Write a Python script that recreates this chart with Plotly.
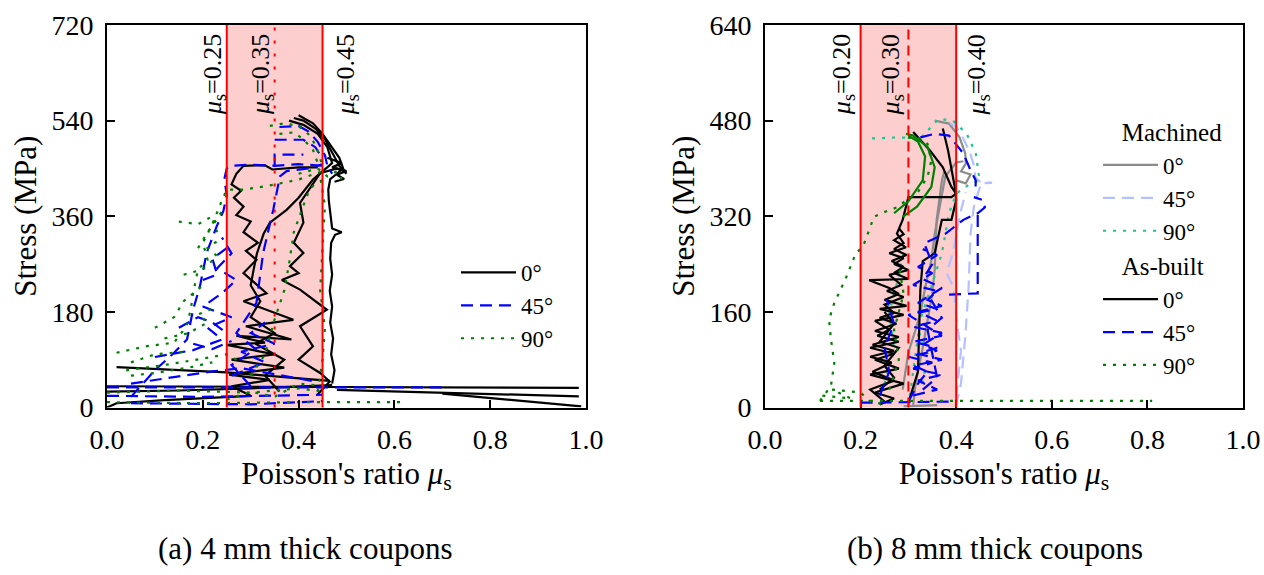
import plotly.graph_objects as go

FONT = "Liberation Serif"

# ---------------- (a) 4 mm thick coupons ----------------
# each series: list of polyline segments of (Poisson's ratio, stress MPa)
a_0deg = [
    [(0.00, 0), (0.02, 8), (0.12, 14), (0.22, 18), (0.30, 22), (0.26, 40), (0.34, 52), (0.255, 62),
     (0.37, 75), (0.26, 90), (0.35, 100), (0.25, 118), (0.33, 122), (0.27, 135), (0.385, 128),
     (0.29, 153), (0.389, 165), (0.285, 200), (0.333, 215), (0.285, 253), (0.312, 278), (0.29, 295),
     (0.315, 310), (0.285, 330), (0.30, 350), (0.27, 362), (0.285, 378), (0.265, 395), (0.28, 408),
     (0.26, 420), (0.27, 440), (0.285, 455), (0.33, 456), (0.345, 448), (0.40, 452), (0.44, 452)],
    [(0.36, 30), (0.33, 60), (0.37, 90), (0.31, 120), (0.35, 140), (0.30, 170), (0.32, 200),
     (0.30, 230), (0.306, 259), (0.313, 290), (0.327, 327), (0.34, 348), (0.375, 372), (0.40, 395),
     (0.43, 429), (0.45, 445), (0.47, 460), (0.46, 490), (0.44, 515), (0.41, 532), (0.38, 540)],
    [(0.44, 25), (0.465, 49), (0.445, 65), (0.40, 90), (0.43, 115), (0.403, 153), (0.459, 184),
     (0.403, 222), (0.365, 240), (0.40, 253), (0.382, 266), (0.41, 291), (0.39, 310), (0.41, 348),
     (0.403, 385), (0.43, 420), (0.445, 441), (0.48, 450), (0.495, 445), (0.485, 470), (0.47, 490),
     (0.45, 515), (0.43, 535), (0.40, 550)],
    [(0.47, 45), (0.475, 70), (0.468, 100), (0.472, 130), (0.466, 160), (0.47, 190), (0.465, 220),
     (0.47, 250), (0.466, 280), (0.468, 310), (0.476, 325), (0.49, 330), (0.47, 337), (0.467, 360),
     (0.463, 390), (0.462, 410), (0.466, 430), (0.48, 440), (0.49, 448), (0.50, 440), (0.485, 455),
     (0.47, 480), (0.455, 505), (0.435, 525), (0.41, 540), (0.39, 545)],
    [(0.46, 470), (0.49, 460), (0.47, 452), (0.50, 445), (0.48, 438), (0.495, 430), (0.475, 425)],
    [(0.02, 76), (0.25, 66), (0.465, 50)],
    [(0.00, 40), (0.985, 37)],
    [(0.48, 33), (0.985, 21)],
    [(0.70, 26), (0.99, 2)],
    [(0.00, 30), (0.15, 32), (0.30, 36), (0.47, 42)],
]
a_45deg = [
    [(0.05, 20), (0.10, 70), (0.14, 103), (0.167, 128), (0.18, 185), (0.194, 228), (0.208, 291),
     (0.229, 341), (0.243, 370), (0.25, 400), (0.245, 430), (0.25, 450), (0.26, 455), (0.30, 457),
     (0.35, 455), (0.40, 458), (0.45, 455)],
    [(0.30, 40), (0.26, 80), (0.31, 110), (0.27, 140), (0.312, 197), (0.326, 291), (0.347, 372),
     (0.361, 435), (0.375, 445), (0.42, 450), (0.45, 458)],
    [(0.35, 455), (0.35, 476), (0.41, 476)],
    [(0.35, 504), (0.41, 504), (0.435, 490), (0.45, 468)],
    [(0.36, 528), (0.40, 530), (0.42, 520), (0.44, 500), (0.455, 475), (0.46, 455), (0.47, 440)],
    [(0.05, 45), (0.15, 58), (0.22, 68), (0.28, 74), (0.35, 62), (0.44, 48)],
    [(0.10, 95), (0.18, 108), (0.24, 128), (0.21, 150), (0.26, 170), (0.20, 190), (0.24, 215),
     (0.27, 240), (0.23, 262), (0.26, 290), (0.24, 320)],
    [(0.26, 60), (0.33, 85), (0.28, 105), (0.35, 120), (0.30, 140), (0.33, 160)],
    [(0.15, 150), (0.19, 170), (0.22, 160), (0.25, 140)],
    [(0.20, 240), (0.23, 250), (0.22, 280), (0.25, 300)],
    [(0.18, 120), (0.22, 110), (0.26, 125)],
    [(0.00, 38), (0.70, 38)],
    [(0.00, 22), (0.20, 20), (0.45, 24)],
    [(0.05, 8), (0.30, 6), (0.45, 12)],
]
a_90deg = [
    [(0.02, 103), (0.08, 115), (0.14, 122), (0.166, 153), (0.175, 185), (0.18, 216), (0.19, 260),
     (0.21, 278), (0.20, 310), (0.22, 345), (0.24, 390), (0.25, 410), (0.285, 410), (0.34, 418),
     (0.40, 429), (0.43, 439), (0.45, 445)],
    [(0.44, 30), (0.45, 90), (0.455, 150), (0.445, 220), (0.45, 300), (0.455, 380), (0.445, 435)],
    [(0.30, 60), (0.33, 100), (0.35, 166), (0.37, 220), (0.38, 270), (0.39, 330), (0.41, 380),
     (0.42, 404), (0.44, 430)],
    [(0.34, 530), (0.37, 535), (0.40, 530), (0.42, 515), (0.435, 495), (0.445, 470), (0.45, 450)],
    [(0.36, 515), (0.39, 518), (0.41, 505), (0.43, 485), (0.44, 460)],
    [(0.40, 440), (0.44, 450), (0.46, 435), (0.48, 445), (0.49, 430)],
    [(0.00, 10), (0.20, 8), (0.40, 10), (0.62, 10)],
    [(0.00, 28), (0.15, 32), (0.30, 28), (0.40, 36), (0.45, 30)],
    [(0.04, 70), (0.12, 80), (0.20, 92), (0.25, 100), (0.28, 85)],
    [(0.15, 350), (0.19, 345), (0.22, 360), (0.23, 330)],
    [(0.10, 150), (0.14, 170), (0.16, 200), (0.20, 230)],
    [(0.05, 60), (0.10, 65), (0.17, 75), (0.22, 85)],
    [(0.12, 130), (0.17, 140), (0.21, 160), (0.19, 175), (0.23, 190)],
    [(0.16, 250), (0.20, 260), (0.23, 285), (0.21, 300), (0.24, 320)],
    [(0.19, 300), (0.21, 330), (0.23, 355), (0.24, 370)],
    [(0.05, 85), (0.10, 100), (0.16, 105)],
    [(0.25, 15), (0.30, 30), (0.35, 20), (0.40, 45), (0.46, 40)],
]

# ---------------- (b) 8 mm thick coupons ----------------
b_machined_0 = [
    [(0.31, 3), (0.315, 40), (0.33, 100), (0.34, 147), (0.35, 190), (0.355, 230), (0.357, 270),
     (0.359, 313), (0.365, 350), (0.37, 380), (0.375, 395)],
    [(0.288, 30), (0.30, 92), (0.315, 130), (0.325, 158), (0.335, 200), (0.348, 247), (0.355, 290),
     (0.366, 336), (0.377, 386), (0.39, 400), (0.40, 410), (0.415, 412)],
    [(0.355, 480), (0.385, 475), (0.407, 452), (0.419, 425), (0.42, 408), (0.41, 395), (0.43, 390),
     (0.42, 375), (0.40, 380)],
    [(0.29, 2), (0.36, 4)],
]
b_machined_45 = [
    [(0.40, 3), (0.41, 40), (0.419, 119), (0.426, 202), (0.43, 291), (0.437, 336), (0.452, 375),
     (0.475, 376), (0.45, 378), (0.44, 385), (0.437, 405), (0.43, 424), (0.415, 450), (0.40, 470),
     (0.38, 478)],
    [(0.40, 17), (0.405, 60), (0.41, 95), (0.40, 150), (0.395, 200), (0.38, 225), (0.393, 258),
     (0.40, 290), (0.41, 330), (0.42, 360)],
]
b_machined_90 = [
    [(0.30, 3), (0.31, 60), (0.325, 147), (0.348, 202), (0.37, 258), (0.385, 325), (0.40, 358),
     (0.43, 375), (0.449, 380), (0.441, 425), (0.422, 458), (0.393, 480), (0.363, 483), (0.34, 463),
     (0.325, 450), (0.28, 452), (0.22, 450)],
    [(0.25, 40), (0.27, 100), (0.26, 160), (0.28, 220), (0.29, 260)],
    [(0.33, 40), (0.34, 90), (0.32, 130)],
]
b_asbuilt_0 = [
    [(0.24, 5), (0.27, 15), (0.23, 25), (0.29, 40), (0.22, 55), (0.28, 65), (0.23, 80), (0.27, 90),
     (0.22, 100), (0.28, 110), (0.235, 120), (0.26, 130), (0.23, 145), (0.29, 155), (0.24, 165),
     (0.296, 170), (0.25, 180), (0.28, 190), (0.26, 200), (0.218, 213), (0.30, 215), (0.27, 225),
     (0.29, 235), (0.265, 245), (0.296, 255), (0.27, 265), (0.29, 275), (0.276, 291), (0.288, 314),
     (0.30, 352), (0.39, 352), (0.40, 358), (0.39, 369), (0.372, 402), (0.345, 430), (0.31, 461)],
    [(0.30, 8), (0.32, 60), (0.325, 197), (0.33, 245), (0.355, 258), (0.37, 314), (0.39, 314),
     (0.40, 347), (0.397, 369), (0.383, 430), (0.372, 467)],
    [(0.25, 10), (0.22, 30), (0.27, 45), (0.225, 60), (0.265, 75), (0.22, 85), (0.27, 95),
     (0.225, 105), (0.28, 118), (0.23, 128), (0.275, 140), (0.24, 150), (0.27, 158), (0.25, 172),
     (0.29, 185), (0.255, 195), (0.285, 205), (0.26, 222), (0.30, 230), (0.27, 240), (0.29, 250),
     (0.26, 258), (0.295, 268), (0.27, 280), (0.29, 290), (0.28, 300)],
    [(0.24, 30), (0.27, 50), (0.25, 70), (0.28, 100), (0.24, 110), (0.27, 140), (0.25, 160)],
]
b_asbuilt_45 = [
    [(0.30, 10), (0.32, 40), (0.34, 60), (0.31, 70), (0.37, 80), (0.32, 90), (0.36, 100), (0.31, 110),
     (0.37, 120), (0.33, 140), (0.30, 155), (0.36, 165), (0.32, 175), (0.37, 200), (0.33, 215),
     (0.35, 240), (0.333, 275), (0.378, 291), (0.415, 314), (0.445, 325), (0.46, 335), (0.456, 347),
     (0.437, 352)],
    [(0.31, 20), (0.36, 30), (0.32, 45), (0.37, 55), (0.31, 65), (0.35, 75), (0.30, 85), (0.36, 95),
     (0.33, 105), (0.37, 125), (0.31, 135), (0.36, 145), (0.32, 160), (0.37, 170), (0.34, 180),
     (0.36, 195), (0.31, 205), (0.35, 225), (0.32, 235), (0.36, 255), (0.33, 265)],
    [(0.385, 189), (0.445, 191), (0.445, 214), (0.445, 300), (0.445, 322)],
    [(0.325, 452), (0.355, 458), (0.385, 455), (0.415, 425), (0.43, 397), (0.441, 380), (0.44, 360)],
    [(0.20, 8), (0.40, 10)],
    [(0.24, 20), (0.26, 60), (0.25, 100), (0.27, 140), (0.255, 180)],
    [(0.33, 30), (0.36, 50), (0.34, 130), (0.37, 150), (0.34, 190)],
]
b_asbuilt_90 = [
    [(0.115, 11), (0.138, 36), (0.145, 75), (0.138, 114), (0.134, 147), (0.145, 175), (0.168, 214),
     (0.19, 258), (0.205, 269), (0.228, 319), (0.243, 325), (0.28, 336), (0.295, 347), (0.318, 358),
     (0.34, 386), (0.348, 413), (0.34, 441), (0.325, 450), (0.29, 452)],
    [(0.115, 11), (0.81, 11)],
    [(0.12, 20), (0.18, 15), (0.14, 30), (0.20, 25), (0.22, 10), (0.25, 5)],
    [(0.26, 30), (0.28, 80), (0.27, 130), (0.29, 190), (0.28, 240)],
]
# dense (visually continuous) upper branches of the as-built 90° coupons
b_asbuilt_90_dense = [
    [(0.288, 319), (0.318, 336), (0.348, 369), (0.355, 402), (0.34, 436), (0.31, 455), (0.295, 458)],
    [(0.27, 325), (0.30, 345), (0.33, 380), (0.335, 420), (0.32, 445), (0.30, 455)],
]

# scatter band limits and reference lines
a_band = (0.25, 0.45)
a_mid = 0.35
b_band = (0.20, 0.40)
b_mid = 0.30
a_yticks = [0, 180, 360, 540, 720]
b_yticks = [0, 160, 320, 480, 640]
xticks = [0.0, 0.2, 0.4, 0.6, 0.8, 1.0]

BLACK = "#000000"
BLUE = "#0000FF"
GREEN = "#008000"
GRAY = "#8C8C8C"
LIGHTBLUE = "#B4C0FF"
TEAL = "#18C890"
DASH = "12px,7px"
DOT = "3px,7px"
NB = "\u00a0"


def flatten(segments):
    xs, ys = [], []
    for seg in segments:
        for x, y in seg:
            xs.append(x)
            ys.append(y)
        xs.append(None)
        ys.append(None)
    return xs, ys


fig = go.Figure()


def add_series(segments, name, color, dash, xaxis, yaxis, legend, group, show=True,
               gtitle=None, width=2.2):
    xs, ys = flatten(segments)
    kw = {}
    if gtitle:
        kw["legendgrouptitle"] = dict(text=gtitle, font=dict(family=FONT, size=25, color="black"))
    fig.add_trace(go.Scatter(
        x=xs, y=ys, mode="lines", name=name, connectgaps=False,
        line=dict(color=color, width=width, dash=dash),
        xaxis=xaxis, yaxis=yaxis, legend=legend, legendgroup=group,
        showlegend=show, **kw))


# panel (a)
add_series(a_0deg, "0°", BLACK, "solid", "x", "y", "legend", "a0")
add_series(a_45deg, "45°", BLUE, DASH, "x", "y", "legend", "a45")
add_series(a_90deg, "90°", GREEN, DOT, "x", "y", "legend", "a90")

# panel (b)
mach_title = NB * 3 + "Machined"
asb_title = NB * 3 + "As-built"
add_series(b_machined_0, "0°", GRAY, "solid", "x2", "y2", "legend2", "mach", gtitle=mach_title)
add_series(b_machined_45, "45°", LIGHTBLUE, DASH, "x2", "y2", "legend2", "mach", gtitle=mach_title)
add_series(b_machined_90, "90°", TEAL, DOT, "x2", "y2", "legend2", "mach", gtitle=mach_title)
add_series(b_asbuilt_0, "0°", BLACK, "solid", "x2", "y2", "legend2", "asb", gtitle=asb_title)
add_series(b_asbuilt_45, "45°", BLUE, DASH, "x2", "y2", "legend2", "asb", gtitle=asb_title)
add_series(b_asbuilt_90, "90°", GREEN, DOT, "x2", "y2", "legend2", "asb", gtitle=asb_title)
add_series(b_asbuilt_90_dense, "90°", GREEN, "solid", "x2", "y2", "legend2", "asb", show=False)

# shaded bands and limit lines
for xref, yref, band, mid, middash in (("x", "y", a_band, a_mid, "3px,10px"),
                                        ("x2", "y2", b_band, b_mid, "10px,6px")):
    fig.add_shape(type="rect", xref=xref, yref=yref + " domain", x0=band[0], x1=band[1],
                  y0=0, y1=1, fillcolor="rgb(252,206,206)", line_width=0, layer="below")
    for xv in band:
        fig.add_shape(type="line", xref=xref, yref=yref + " domain", x0=xv, x1=xv, y0=0, y1=1,
                      line=dict(color="red", width=2), layer="above")
    fig.add_shape(type="line", xref=xref, yref=yref + " domain", x0=mid, x1=mid, y0=0, y1=1,
                  line=dict(color="red", width=2, dash=middash), layer="above")


def mu_label(value, xpos, xref, yref):
    fig.add_annotation(x=xpos, y=0.87, xref=xref, yref=yref + " domain",
                       xanchor="center", yanchor="middle",
                       text=f"<i>μ</i><sub>s</sub>={value:.2f}", textangle=-90,
                       showarrow=False, font=dict(family=FONT, size=26, color="black"))


mu_label(a_band[0], 0.222, "x", "y")
mu_label(a_mid, 0.322, "x", "y")
mu_label(a_band[1], 0.500, "x", "y")
mu_label(b_band[0], 0.162, "x2", "y2")
mu_label(b_mid, 0.265, "x2", "y2")
mu_label(b_band[1], 0.445, "x2", "y2")

# sub-figure captions
for cx, label in ((305, "(a) 4 mm thick coupons"), (995, "(b) 8 mm thick coupons")):
    fig.add_annotation(x=cx / 1264, y=1 - 548 / 575, xref="paper", yref="paper",
                       xanchor="center", yanchor="middle", text=label, showarrow=False,
                       font=dict(family=FONT, size=31, color="black"))

ydom = [1 - 407.5 / 575, 1 - 25 / 575]
axis_common = dict(showline=True, linecolor="black", linewidth=2, mirror=True,
                   ticks="inside", ticklen=8, tickwidth=2, tickcolor="black",
                   showgrid=False, zeroline=False, automargin=False,
                   tickfont=dict(family=FONT, size=28, color="black"))
xtitle = dict(text="Poisson's ratio <i>μ</i><sub>s</sub>", font=dict(family=FONT, size=31),
              standoff=8)
ytitle = dict(text="Stress (MPa)", font=dict(family=FONT, size=31), standoff=6)
legend_font = dict(family=FONT, size=23, color="black")

fig.update_layout(
    width=1264, height=575, margin=dict(l=0, r=0, t=0, b=0, autoexpand=False),
    paper_bgcolor="white", plot_bgcolor="white",
    font=dict(family=FONT, color="black"),
    xaxis=dict(domain=[107 / 1264, 586 / 1264], range=[0, 1], tickvals=xticks, tickformat=".1f",
               anchor="y", title=xtitle, ticklabelstandoff=6, **axis_common),
    yaxis=dict(domain=ydom, range=[0, 720], tickvals=a_yticks, anchor="x", title=ytitle,
               ticklabelstandoff=6, **axis_common),
    xaxis2=dict(domain=[765 / 1264, 1243 / 1264], range=[0, 1], tickvals=xticks, tickformat=".1f",
                anchor="y2", title=xtitle, ticklabelstandoff=6, **axis_common),
    yaxis2=dict(domain=ydom, range=[0, 640], tickvals=b_yticks, anchor="x2", title=ytitle,
                ticklabelstandoff=6, **axis_common),
    legend=dict(x=456 / 1264, y=1 - 251 / 575, xanchor="left", yanchor="top",
                bgcolor="rgba(0,0,0,0)", font=legend_font, itemwidth=55,
                tracegroupgap=0, traceorder="normal"),
    legend2=dict(x=1098 / 1264, y=1 - 108 / 575, xanchor="left", yanchor="top",
                 bgcolor="rgba(0,0,0,0)", font=legend_font, itemwidth=55,
                 tracegroupgap=0, traceorder="grouped"),
)

fig.write_html("out.html")
